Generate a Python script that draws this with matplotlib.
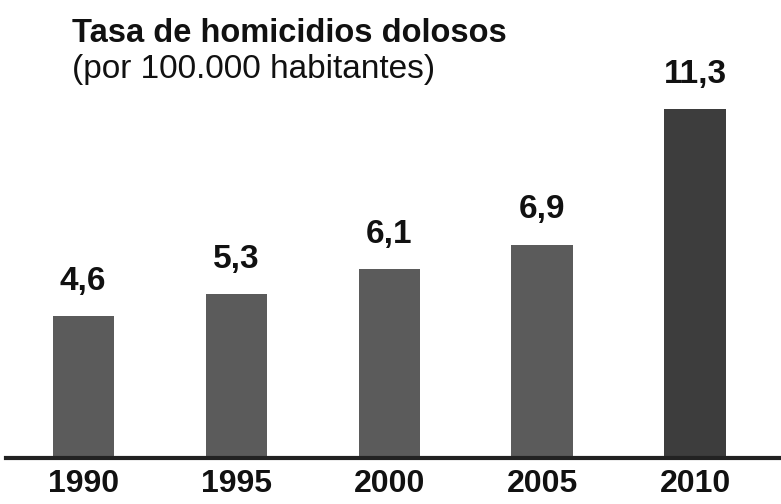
import numpy as np
import matplotlib.pyplot as plt

years = ["1990", "1995", "2000", "2005", "2010"]
rates = [4.6, 5.3, 6.1, 6.9, 11.3]
labels = ["4,6", "5,3", "6,1", "6,9", "11,3"]
colors = ["#5b5b5b", "#5b5b5b", "#5b5b5b", "#5b5b5b", "#3d3d3d"]

font = ["Liberation Sans", "DejaVu Sans"]

fig = plt.figure(figsize=(7.81, 5.04), dpi=100)
ax = fig.add_axes([0.008, 0.0913, 0.992, 0.9087])

x = np.arange(len(years))
ax.bar(x, rates, width=0.4, color=colors)

for xi, v, lab in zip(x, rates, labels):
    ax.text(xi, v + 0.85, lab, ha="center", va="baseline", fontsize=24,
            fontweight="bold", family=font, color="#111111")

ax.set_xlim(-0.503, 4.562)
ax.set_ylim(0, 14.82)
ax.set_xticks(x)
ax.set_xticklabels(years, fontsize=23, fontweight="bold", family=font, color="#111111")
ax.tick_params(axis="x", length=0, pad=8)
ax.set_yticks([])
for s in ["top", "left", "right"]:
    ax.spines[s].set_visible(False)
ax.spines["bottom"].set_linewidth(3)
ax.spines["bottom"].set_color("#222222")

fig.text(72 / 781, 1 - 42 / 504, "Tasa de homicidios dolosos", fontsize=23.5,
         fontweight="bold", family=font, va="baseline", color="#111111")
fig.text(72 / 781, 1 - 78 / 504, "(por 100.000 habitantes)", fontsize=24,
         family=font, va="baseline", color="#111111")

fig.savefig("out.png", dpi=100)
